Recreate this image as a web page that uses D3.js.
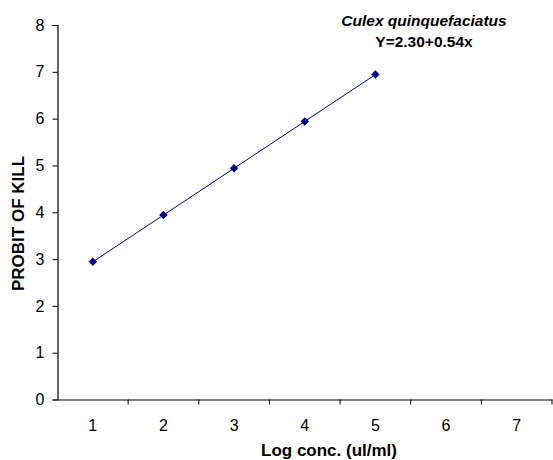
<!DOCTYPE html>
<html>
<head>
<meta charset="utf-8">
<script src="https://cdn.jsdelivr.net/npm/d3@7"></script>
<style>
  body { margin: 0; background: #fff; }
  text { font-family: "Liberation Sans", Arial, sans-serif; }
</style>
</head>
<body>
<div id="chart"></div>
<script>
var chart_width  = 553;
var chart_height = 460;

// data
var categories = ['1', '2', '3', '4', '5', '6', '7'];
var dose       = ['1', '2', '3', '4', '5'];
var probit     = [2.94, 3.94, 4.94, 5.94, 6.94];
var y_ticks    = [0, 1, 2, 3, 4, 5, 6, 7, 8];

var left = 57.5, right = 552, top_y = 25, bottom = 399.5;

var svg = d3.select('#chart')
  .append('svg')
  .attr('width', chart_width)
  .attr('height', chart_height);

// scales
var x_scale = d3.scaleBand()
  .domain(categories)
  .range([left, right]);

var y_scale = d3.scaleLinear()
  .domain([0, 8])
  .range([bottom, top_y]);

// y axis
svg.append('g')
  .attr('transform', 'translate(' + left + ',0)')
  .call(d3.axisLeft(y_scale).tickValues(y_ticks).tickSize(5).tickPadding(8));

// x axis, ticks between categories
var x_axis = svg.append('g')
  .attr('transform', 'translate(0,' + bottom + ')')
  .call(d3.axisBottom(x_scale).tickSize(0).tickPadding(20));

x_axis.selectAll('.tick-mark')
  .data(categories)
  .enter()
  .append('line')
  .attr('x1', function(d) { return x_scale(d) + x_scale.bandwidth(); })
  .attr('x2', function(d) { return x_scale(d) + x_scale.bandwidth(); })
  .attr('y1', 0)
  .attr('y2', 5)
  .attr('stroke', '#000');

svg.selectAll('.domain').attr('stroke', '#000').attr('stroke-width', 1.2);
svg.selectAll('.tick line').attr('stroke', '#000');
svg.selectAll('.tick text')
  .attr('font-size', 16)
  .attr('font-family', '"Liberation Sans", Arial, sans-serif')
  .attr('fill', '#000');

// line + markers
var pts = dose.map(function(d, i) { return { x: d, y: probit[i] }; });

var line = d3.line()
  .x(function(d) { return x_scale(d.x) + x_scale.bandwidth() / 2; })
  .y(function(d) { return y_scale(d.y); });

svg.append('path')
  .datum(pts)
  .attr('d', line)
  .attr('fill', 'none')
  .attr('stroke', '#000080')
  .attr('stroke-width', 1);

svg.selectAll('.marker')
  .data(pts)
  .enter()
  .append('path')
  .attr('class', 'marker')
  .attr('d', d3.symbol().type(d3.symbolDiamond2).size(46))
  .attr('transform', function(d) {
    return 'translate(' + (x_scale(d.x) + x_scale.bandwidth() / 2) + ',' + y_scale(d.y) + ')';
  })
  .attr('fill', '#000080');

// axis titles
svg.append('text')
  .text('Log conc. (ul/ml)')
  .attr('x', 329)
  .attr('y', 456)
  .attr('text-anchor', 'middle')
  .attr('font-size', 17)
  .attr('font-weight', 'bold');

svg.append('text')
  .text('PROBIT OF KILL')
  .attr('transform', 'translate(24,223.5) rotate(-90)')
  .attr('text-anchor', 'middle')
  .attr('font-size', 17)
  .attr('font-weight', 'bold');

// annotation
svg.append('text')
  .text('Culex quinquefaciatus')
  .attr('x', 424)
  .attr('y', 26)
  .attr('text-anchor', 'middle')
  .attr('font-size', 15.5)
  .attr('font-weight', 'bold')
  .attr('font-style', 'italic');

svg.append('text')
  .text('Y=2.30+0.54x')
  .attr('x', 424)
  .attr('y', 46.5)
  .attr('text-anchor', 'middle')
  .attr('font-size', 15.5)
  .attr('font-weight', 'bold');
</script>
</body>
</html>
